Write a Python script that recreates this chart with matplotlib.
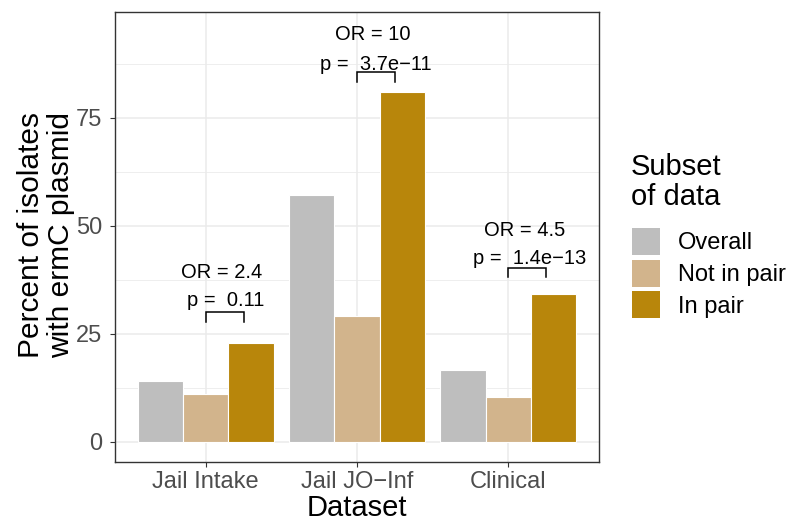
import matplotlib
matplotlib.use("Agg")
import matplotlib.pyplot as plt
from matplotlib.patches import Patch
import numpy as np

plt.rcParams['font.family'] = ['Liberation Sans', 'DejaVu Sans']

# Data
datasets = ["Jail Intake", "Jail JO\u2212Inf", "Clinical"]
subsets = ["Overall", "Not in pair", "In pair"]
overall = [14.0, 57.2, 16.5]
not_in_pair = [11.0, 29.0, 10.3]
in_pair = [22.8, 81.0, 34.2]
odds_ratio = ["2.4", "10", "4.5"]
p_values = ["0.11", "3.7e\u221211", "1.4e\u221213"]
y_ticks = [0, 25, 50, 75]

# Styling
colors = ["#BEBEBE", "#D2B48C", "#B8860B"]
bar_w = 0.3
grid_col = "#EBEBEB"
text_col = "#4D4D4D"
frame_col = "#333333"

# Annotation layout (data units)
bracket_top = [30.0, 85.5, 40.2]
bracket_leg = 2.2
bracket_right = 0.25
or_pos = [(1.106, 37.8), (2.102, 92.9), (3.106, 47.6)]
p_pos = [(1.135, 31.4), (2.125, 86.0), (3.142, 41.1)]

W, H = 790, 522
fig = plt.figure(figsize=(W / 100, H / 100), dpi=100)
ax = fig.add_axes([115 / W, 60 / H, 484 / W, 450 / H])

x = np.arange(1, len(datasets) + 1)
series = [overall, not_in_pair, in_pair]
for i, (vals, col, name) in enumerate(zip(series, colors, subsets)):
    ax.bar(x + (i - 1) * bar_w, vals, width=bar_w, color=col,
           edgecolor="white", linewidth=0.8, label=name, zorder=3)

# Significance brackets and labels
for j in range(len(datasets)):
    x1 = x[j]
    x2 = x[j] + bracket_right
    top = bracket_top[j]
    ax.plot([x1, x1, x2, x2], [top - bracket_leg, top, top, top - bracket_leg],
            color="black", lw=1.1, zorder=4, solid_joinstyle="miter")
    ax.text(or_pos[j][0], or_pos[j][1], f"OR = {odds_ratio[j]}",
            ha="center", va="baseline", fontsize=14.5, color="black", zorder=5)
    ax.text(p_pos[j][0], p_pos[j][1], f"p =  {p_values[j]}",
            ha="center", va="baseline", fontsize=14.5, color="black", zorder=5)

ax.set_xlim(0.4, 3.6)
ax.set_ylim(-4.74, 99.5)
ax.set_xticks(x)
ax.set_xticklabels(datasets)
ax.set_yticks(y_ticks)
ax.set_yticks([12.5, 37.5, 62.5, 87.5], minor=True)
ax.tick_params(axis="both", which="major", labelsize=17, labelcolor=text_col,
               color=frame_col, length=3.5, width=0.8)
ax.tick_params(axis="x", which="major", pad=3)
ax.tick_params(axis="y", which="major", pad=5.5)
ax.tick_params(axis="y", which="minor", length=0)

ax.grid(True, which="major", color=grid_col, lw=1.1, zorder=0)
ax.grid(True, which="minor", axis="y", color=grid_col, lw=0.6, zorder=0)
ax.set_axisbelow(True)
for s in ax.spines.values():
    s.set_color(frame_col)
    s.set_linewidth(1.0)

# Axis titles
fig.text(357 / W, 1 - 515.5 / H, "Dataset", ha="center", va="baseline",
         fontsize=21)
fig.text(46 / W, 1 - 235 / H, "Percent of isolates\nwith ermC plasmid",
         rotation=90, ha="center", va="center", fontsize=21.5,
         multialignment="center", linespacing=1.05)

# Legend: title lines and colour keys
fig.text(631 / W, 1 - 175 / H, "Subset", ha="left", va="baseline", fontsize=21)
fig.text(631 / W, 1 - 205 / H, "of data", ha="left", va="baseline", fontsize=21)
handles = [Patch(facecolor=c, edgecolor="none") for c in colors]
fig.legend(handles, subsets, loc="upper left",
           bbox_to_anchor=(632 / W, 1 - 228 / H),
           frameon=False, fontsize=17, borderpad=0, borderaxespad=0,
           handlelength=1.2, handleheight=1.38, handletextpad=0.75,
           labelspacing=0.2)

fig.savefig("out.png", dpi=100)
